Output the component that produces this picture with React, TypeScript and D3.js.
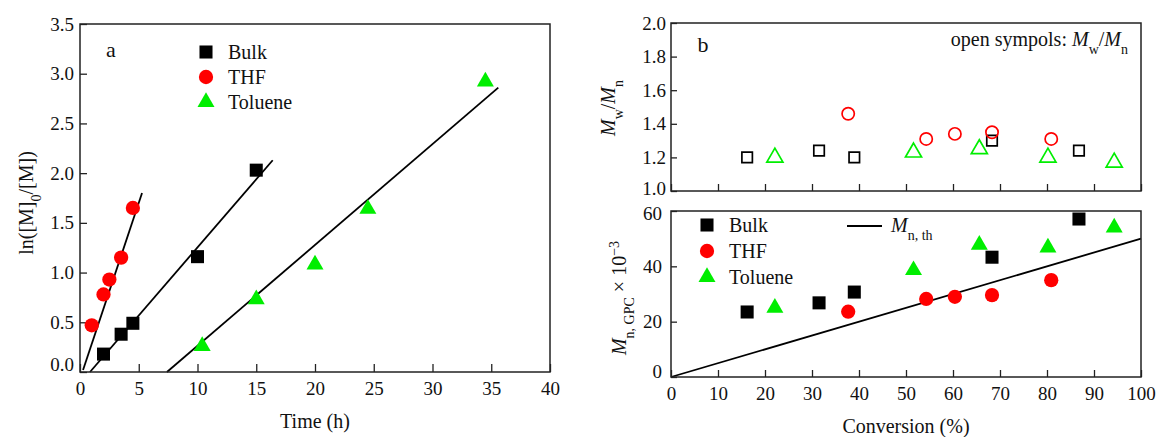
import { useEffect, useRef } from "react";
import * as d3 from "d3";

// ---- panel a: ln([M]0/[M]) vs time ----
const bulkTime = [2.0, 3.5, 4.5, 10.0, 15.0];
const bulkLn = [0.18, 0.38, 0.49, 1.16, 2.03];
const thfTime = [1.0, 2.0, 2.5, 3.5, 4.5];
const thfLn = [0.47, 0.78, 0.93, 1.15, 1.65];
const tolTime = [10.4, 15.0, 20.0, 24.5, 34.5];
const tolLn = [0.26, 0.73, 1.08, 1.64, 2.92];
// fitted lines: [t0, ln0, t1, ln1]
const bulkFit = [0.85, 0, 16.4, 2.13];
const thfFit = [0.26, 0.02, 5.28, 1.8];
const tolFit = [7.4, 0, 35.6, 2.86];
const timeTicks = [0, 5, 10, 15, 20, 25, 30, 35, 40];
const lnTicks = [0, 0.5, 1, 1.5, 2, 2.5, 3, 3.5];

// ---- panel b: Mw/Mn and Mn vs conversion ----
const bulkConv = [16.2, 31.5, 39.0, 68.3, 86.8];
const bulkPdi = [1.2, 1.24, 1.2, 1.3, 1.24];
const bulkMn = [23.5, 26.8, 30.7, 43.3, 57.1];
const thfConv = [37.7, 54.3, 60.4, 68.3, 80.9];
const thfPdi = [1.46, 1.31, 1.34, 1.35, 1.31];
const thfMn = [23.6, 28.2, 29.0, 29.6, 35.0];
const tolConv = [22.1, 51.6, 65.6, 80.2, 94.3];
const tolPdi = [1.2, 1.23, 1.25, 1.2, 1.17];
const tolMn = [25.0, 38.6, 47.8, 46.8, 54.0];
const mnThConv = [0, 100];
const mnThVal = [0, 50];
const convTicks = [0, 10, 20, 30, 40, 50, 60, 70, 80, 90, 100];
const pdiTicks = [1.0, 1.2, 1.4, 1.6, 1.8, 2.0];
const mnTicks = [0, 20, 40, 60];

const FONT = "Liberation Serif";
const GREEN = "#00ee00";
const RED = "#ff0000";
const TICK_FS = 19;
const LAB_FS = 20;

export default function App() {
  const ref = useRef<SVGSVGElement>(null);

  useEffect(() => {
    const svg = d3.select(ref.current);
    svg.selectAll("*").remove();

    const txt = (g: any, x: number, y: number, size: number, anchor = "start") =>
      g.append("text").attr("x", x).attr("y", y).attr("text-anchor", anchor)
        .attr("font-family", FONT).attr("font-size", size).attr("fill", "#111");

    const frame = (x0: number, y0: number, x1: number, y1: number) =>
      svg.append("rect").attr("x", x0).attr("y", y0).attr("width", x1 - x0).attr("height", y1 - y0)
        .attr("fill", "none").attr("stroke", "#222").attr("stroke-width", 1.5);

    const styleAxis = (g: any) => {
      g.attr("font-family", FONT).attr("font-size", TICK_FS);
      g.select(".domain").remove();
      g.selectAll(".tick line").attr("stroke", "#222").attr("stroke-width", 1.3);
      g.selectAll(".tick text").attr("fill", "#111");
    };

    const symOf = (t: string) => (t === "square" ? d3.symbolSquare : t === "circle" ? d3.symbolCircle : d3.symbolTriangle);
    // symbol areas (px^2)
    const filledSize = (t: string) => (t === "square" ? 170 : t === "circle" ? 160 : 125);
    const openSize = (t: string) => (t === "square" ? 110 : t === "circle" ? 118 : 112);

    const marker = (g: any, type: string, xs: number[], ys: number[], sx: any, sy: any, filled: boolean, color: string) => {
      g.selectAll(null)
        .data(xs.map((x, i) => [x, ys[i]]))
        .enter()
        .append("path")
        .attr("d", d3.symbol(symOf(type), filled ? filledSize(type) : openSize(type))())
        .attr("transform", (d: number[]) => `translate(${sx(d[0])},${sy(d[1])})`)
        .attr("fill", filled ? color : "none")
        .attr("stroke", filled ? "none" : color)
        .attr("stroke-width", 1.7);
    };

    // ===== Panel a =====
    const ax = d3.scaleLinear().domain([0, 40]).range([80, 550]);
    const ay = d3.scaleLinear().domain([0, 3.5]).range([372, 24]);
    const ga = svg.append("g");

    ga.append("g").attr("transform", "translate(0,372)")
      .call(d3.axisBottom(ax).tickValues(timeTicks).tickSizeInner(-8).tickSizeOuter(0).tickPadding(10).tickFormat(d3.format("d")))
      .call(styleAxis);
    const ayAxis = ga.append("g").attr("transform", "translate(80,0)")
      .call(d3.axisLeft(ay).tickValues(lnTicks).tickSizeInner(-7).tickSizeOuter(0).tickPadding(6).tickFormat(d3.format(".1f")))
      .call(styleAxis);
    ayAxis.selectAll(".tick text").filter((d: any) => d === 0).attr("dy", "-0.1em");
    frame(80, 24, 550, 372);

    const line = d3.line<number[]>().x(d => ax(d[0])).y(d => ay(d[1]));
    [bulkFit, thfFit, tolFit].forEach(f => {
      ga.append("path").attr("d", line([[f[0], f[1]], [f[2], f[3]]]))
        .attr("stroke", "#000").attr("stroke-width", 1.8).attr("fill", "none");
    });

    marker(ga, "square", bulkTime, bulkLn, ax, ay, true, "#000");
    marker(ga, "circle", thfTime, thfLn, ax, ay, true, RED);
    marker(ga, "triangle", tolTime, tolLn, ax, ay, true, GREEN);

    txt(ga, 111, 57, 22, "middle").text("a");

    const legend = [["square", "#000", "Bulk"], ["circle", RED, "THF"], ["triangle", GREEN, "Toluene"]];
    legend.forEach((l, i) => {
      const cy = 52 + i * 25;
      ga.append("path").attr("d", d3.symbol(symOf(l[0]), filledSize(l[0]))())
        .attr("transform", `translate(206,${cy})`).attr("fill", l[1]);
      txt(ga, 228, cy + 6.5, LAB_FS).text(l[2]);
    });

    txt(ga, 315, 428, LAB_FS, "middle").text("Time (h)");

    const yla = txt(ga, 0, 0, LAB_FS, "middle").attr("transform", "translate(33,203) rotate(-90)");
    yla.append("tspan").text("ln([M]");
    yla.append("tspan").attr("baseline-shift", "sub").attr("font-size", 14).text("0");
    yla.append("tspan").text("/[M])");

    // ===== Panel b, top =====
    const bx = d3.scaleLinear().domain([0, 100]).range([671, 1141]);
    const by1 = d3.scaleLinear().domain([1, 2]).range([191, 23]);
    const gb = svg.append("g");

    gb.append("g").attr("transform", "translate(0,191)")
      .call(d3.axisBottom(bx).tickValues(convTicks).tickSizeInner(-7).tickSizeOuter(0).tickFormat(() => ""))
      .call(styleAxis);
    const by1Axis = gb.append("g").attr("transform", "translate(671,0)")
      .call(d3.axisLeft(by1).tickValues(pdiTicks).tickSizeInner(-6).tickSizeOuter(0).tickPadding(5).tickFormat(d3.format(".1f")))
      .call(styleAxis);
    by1Axis.selectAll(".tick text").filter((d: any) => d === 1).attr("dy", "0.2em");
    frame(671, 23, 1141, 191);

    marker(gb, "square", bulkConv, bulkPdi, bx, by1, false, "#000");
    marker(gb, "circle", thfConv, thfPdi, bx, by1, false, RED);
    marker(gb, "triangle", tolConv, tolPdi, bx, by1, false, GREEN);

    txt(gb, 703, 52, 22, "middle").text("b");

    const note = txt(gb, 1128, 46, LAB_FS, "end");
    note.append("tspan").text("open sympols: ");
    note.append("tspan").attr("font-style", "italic").text("M");
    note.append("tspan").attr("baseline-shift", "sub").attr("font-size", 14).text("w");
    note.append("tspan").text("/");
    note.append("tspan").attr("font-style", "italic").text("M");
    note.append("tspan").attr("baseline-shift", "sub").attr("font-size", 14).text("n");

    const ylb1 = txt(gb, 0, 0, LAB_FS, "middle").attr("transform", "translate(615,108) rotate(-90)");
    ylb1.append("tspan").attr("font-style", "italic").text("M");
    ylb1.append("tspan").attr("baseline-shift", "sub").attr("font-size", 14).text("w");
    ylb1.append("tspan").text("/");
    ylb1.append("tspan").attr("font-style", "italic").text("M");
    ylb1.append("tspan").attr("baseline-shift", "sub").attr("font-size", 14).text("n");

    // ===== Panel b, bottom =====
    const by2 = d3.scaleLinear().domain([0, 60]).range([377, 211]);

    gb.append("g").attr("transform", "translate(0,377)")
      .call(d3.axisBottom(bx).tickValues(convTicks).tickSizeInner(-7).tickSizeOuter(0).tickPadding(10).tickFormat(d3.format("d")))
      .call(styleAxis);
    const by2Axis = gb.append("g").attr("transform", "translate(671,0)")
      .call(d3.axisLeft(by2).tickValues(mnTicks).tickSizeInner(-6).tickSizeOuter(0).tickPadding(9).tickFormat(d3.format("d")))
      .call(styleAxis);
    by2Axis.selectAll(".tick text").filter((d: any) => d === 0).attr("dy", "0.05em");
    by2Axis.selectAll(".tick text").filter((d: any) => d === 60).attr("dy", "0.45em");
    frame(671, 211, 1141, 377);

    const lineB = d3.line<number[]>().x(d => bx(d[0])).y(d => by2(d[1]));
    gb.append("path").attr("d", lineB(mnThConv.map((c, i) => [c, mnThVal[i]])))
      .attr("stroke", "#000").attr("stroke-width", 1.8).attr("fill", "none");

    marker(gb, "square", bulkConv, bulkMn, bx, by2, true, "#000");
    marker(gb, "circle", thfConv, thfMn, bx, by2, true, RED);
    marker(gb, "triangle", tolConv, tolMn, bx, by2, true, GREEN);

    legend.forEach((l, i) => {
      const cy = 225 + i * 26;
      gb.append("path").attr("d", d3.symbol(symOf(l[0]), filledSize(l[0]))())
        .attr("transform", `translate(707,${cy})`).attr("fill", l[1]);
      txt(gb, 729, cy + 6.5, LAB_FS).text(l[2]);
    });
    gb.append("line").attr("x1", 847).attr("x2", 882).attr("y1", 226).attr("y2", 226)
      .attr("stroke", "#000").attr("stroke-width", 1.8);
    const mth = txt(gb, 891, 232, LAB_FS);
    mth.append("tspan").attr("font-style", "italic").text("M");
    mth.append("tspan").attr("baseline-shift", "sub").attr("font-size", 14).text("n, th");

    const ylb2 = txt(gb, 0, 0, LAB_FS, "middle").attr("transform", "translate(626,298) rotate(-90)");
    ylb2.append("tspan").attr("font-style", "italic").text("M");
    ylb2.append("tspan").attr("baseline-shift", "sub").attr("font-size", 14).text("n, GPC");
    ylb2.append("tspan").text(" \u00d7 10");
    ylb2.append("tspan").attr("baseline-shift", "super").attr("font-size", 14).text("\u22123");

    txt(gb, 906, 433, LAB_FS, "middle").text("Conversion (%)");
  }, []);

  return (
    <svg ref={ref} width={1156} height={437}
      style={{ position: "absolute", left: 0, top: 0, background: "#fff" }} />
  );
}
